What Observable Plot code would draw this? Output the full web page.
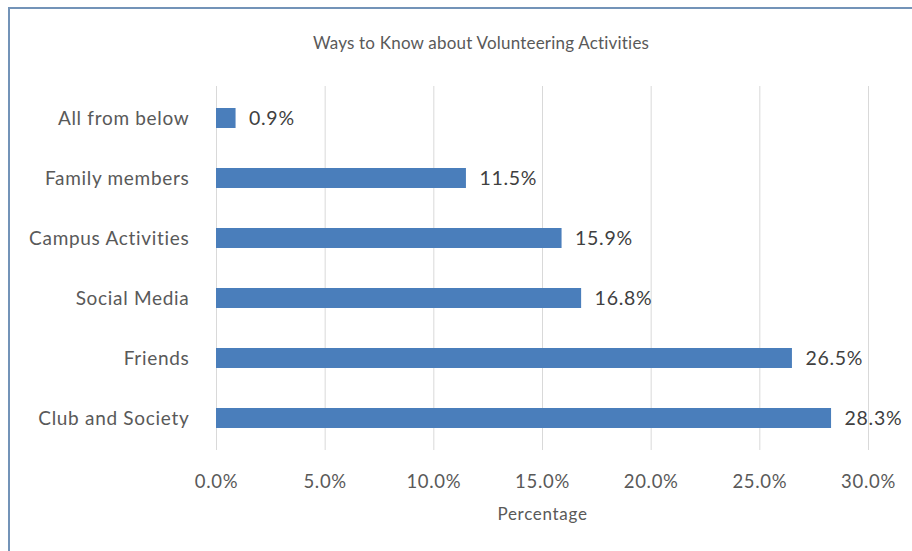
<!DOCTYPE html>
<html>
<head>
<meta charset="utf-8">
<script src="https://cdn.jsdelivr.net/npm/d3@7"></script>
<script src="https://cdn.jsdelivr.net/npm/@observablehq/plot@0.6"></script>
<style>
  html, body { margin: 0; padding: 0; background: #fff; }
  #wrap { position: relative; width: 912px; height: 551px; overflow: hidden; background: #fff; font-family: Lato, "Open Sans", sans-serif; }
  #frame { position: absolute; left: 8px; top: 7px; width: 920px; height: 560px; border-left: 2px solid #7393b8; border-top: 2px solid #7393b8; box-sizing: border-box; }
  #title { position: absolute; left: 0; width: 962px; top: 32px; text-align: center; font-size: 17px; letter-spacing: 0.2px; color: #595959; line-height: 22px; }
  #chart { position: absolute; left: 0; top: 60px; }
</style>
</head>
<body>
<div id="wrap">
  <div id="frame"></div>
  <div id="title">Ways to Know about Volunteering Activities</div>
  <div id="chart"></div>
</div>
<script>
const categories = ["All from below", "Family members", "Campus Activities", "Social Media", "Friends", "Club and Society"];
const values = [0.9, 11.5, 15.9, 16.8, 26.5, 28.3];
const xTicks = [0, 5, 10, 15, 20, 25, 30];
const xLabel = "Percentage";

const data = categories.map((c, i) => ({category: c, value: values[i]}));
const fmt = d => d.toFixed(1) + "%";

const chart = Plot.plot({
  width: 912,
  height: 491,
  marginTop: 26,
  marginBottom: 101,
  marginLeft: 216,
  marginRight: 44,
  style: {fontFamily: "Lato, 'Open Sans', sans-serif", background: "transparent", color: "#595959"},
  x: {domain: [0, 30]},
  y: {domain: categories, paddingInner: 0.67, paddingOuter: 0.335},
  marks: [
    Plot.ruleX(xTicks, {stroke: "#d9d9d9", strokeWidth: 1}),
    Plot.barX(data, {x: "value", y: "category", fill: "#4a7ebb"}),
    Plot.text(data, {x: "value", y: "category", text: d => fmt(d.value), dx: 13, textAnchor: "start", fontSize: 19.5, fill: "#404040"}),
    Plot.axisY({tickSize: 0, tickPadding: 27, fontSize: 19, label: null, color: "#595959"}),
    Plot.axisX(xTicks, {tickSize: 0, tickPadding: 24, fontSize: 18.5, tickFormat: fmt, label: null, color: "#595959"}),
    Plot.text([xLabel], {frameAnchor: "bottom", dy: 69, fontSize: 17, fill: "#595959"})
  ]
});
chart.querySelectorAll("text").forEach(t => {
  const fs = parseFloat(t.closest("[font-size]")?.getAttribute("font-size") || 0);
  if (fs >= 17) t.setAttribute("letter-spacing", "0.7");
});
document.getElementById("chart").appendChild(chart);
</script>
</body>
</html>
